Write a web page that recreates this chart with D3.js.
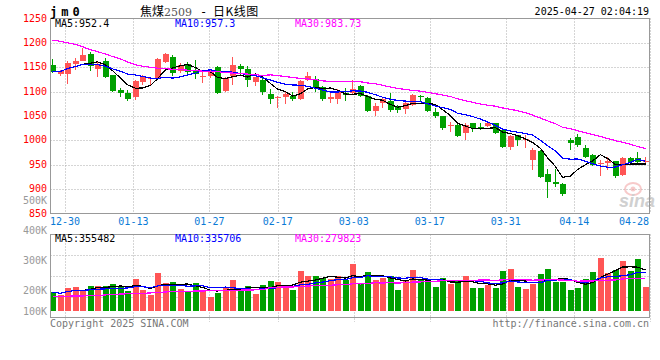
<!DOCTYPE html>
<html>
<head>
<meta charset="utf-8">
<script src="https://cdn.jsdelivr.net/npm/d3@7"></script>
<style>
    body { margin: 0; background: #fff; }
    svg { display: block; }
    text { font-family: "DejaVu Sans Mono", monospace; font-size: 10px; }
</style>
</head>
<body>
<svg id="chart" width="660" height="360"></svg>
<script>
// trading days shown (12-25 .. 04-25)
var dates = ['12-25', '12-26', '12-27', '12-30', '12-31',
    '01-02', '01-03', '01-06', '01-07', '01-08', '01-09', '01-10', '01-13', '01-14', '01-15',
    '01-16', '01-17', '01-20', '01-21', '01-22', '01-23', '01-24', '01-27',
    '02-05', '02-06', '02-07', '02-10', '02-11', '02-12', '02-13', '02-14', '02-17', '02-18',
    '02-19', '02-20', '02-21', '02-24', '02-25', '02-26', '02-27', '02-28',
    '03-03', '03-04', '03-05', '03-06', '03-07', '03-10', '03-11', '03-12', '03-13', '03-14',
    '03-17', '03-18', '03-19', '03-20', '03-21', '03-24', '03-25', '03-26', '03-27', '03-28', '03-31',
    '04-01', '04-02', '04-03', '04-07', '04-08', '04-09', '04-10', '04-11', '04-14', '04-15',
    '04-16', '04-17', '04-18', '04-21', '04-22', '04-23', '04-24', '04-25'];

var opens = [1155, 1137, 1136, 1157, 1163, 1177, 1146, 1163, 1134, 1103, 1097, 1090, 1119, 1125, 1125,
    1160, 1172, 1143, 1156, 1145, 1131, 1132, 1150, 1101, 1133, 1153, 1147, 1120, 1124, 1096,
    1088, 1090, 1091, 1085, 1123, 1125, 1110, 1085, 1085, 1098, 1098, 1112, 1091, 1060, 1076,
    1081, 1069, 1064, 1072, 1091, 1086, 1059, 1050, 1029, 1031, 1016, 1035, 1027, 1030, 1035,
    1021, 987, 1011, 1000, 960, 979, 931, 914, 910, 1001, 1006, 985, 970, 952, 953,
    958, 929, 963, 963, 955];
var highs = [1166, 1145, 1162, 1168, 1189, 1181, 1160, 1168, 1135, 1107, 1103, 1124, 1134, 1130, 1170,
    1179, 1176, 1158, 1160, 1165, 1140, 1145, 1152, 1131, 1172, 1156, 1153, 1131, 1127, 1105,
    1091, 1100, 1100, 1124, 1140, 1133, 1112, 1098, 1105, 1108, 1124, 1114, 1093, 1076, 1090,
    1097, 1073, 1079, 1095, 1093, 1088, 1066, 1050, 1037, 1035, 1035, 1036, 1035, 1037, 1036,
    1022, 1011, 1012, 1011, 985, 980, 941, 941, 912, 1004, 1014, 990, 973, 960, 965,
    958, 966, 966, 977, 966];
var lows = [1139, 1133, 1116, 1144, 1162, 1143, 1131, 1127, 1100, 1088, 1081, 1082, 1114, 1114, 1124,
    1158, 1133, 1138, 1132, 1125, 1118, 1127, 1095, 1099, 1114, 1135, 1110, 1112, 1093, 1074,
    1066, 1075, 1081, 1083, 1121, 1100, 1081, 1076, 1075, 1081, 1094, 1090, 1059, 1050, 1067,
    1059, 1057, 1054, 1070, 1080, 1058, 1045, 1022, 1018, 1006, 1001, 1018, 1021, 1028, 1014,
    985, 981, 989, 984, 939, 923, 882, 905, 886, 981, 987, 963, 947, 927, 939,
    922, 927, 953, 953, 949];
var closes = [1141, 1142, 1159, 1163, 1175, 1152, 1157, 1129, 1102, 1098, 1084, 1122, 1131, 1128, 1167,
    1177, 1139, 1155, 1140, 1136, 1133, 1140, 1097, 1128, 1155, 1147, 1123, 1129, 1099, 1085,
    1090, 1096, 1085, 1122, 1133, 1107, 1085, 1090, 1100, 1093, 1105, 1092, 1060, 1070, 1085,
    1062, 1063, 1076, 1093, 1088, 1061, 1049, 1025, 1031, 1010, 1031, 1025, 1023, 1035, 1016,
    987, 1009, 1001, 1002, 980, 925, 915, 910, 890, 995, 990, 965, 949, 954, 957,
    927, 964, 955, 955, 957];
var volumes = [164000, 140500, 198100, 206900, 177600, 212800, 212800, 212800, 229400, 212800,
    171800, 272300, 177600, 134700, 327000, 241100, 249900, 186400, 164000, 241100,
    177600, 121000, 158100, 198100, 264500, 177600, 212800, 143500, 220600, 258600,
    249900, 212800, 177600, 344500, 301600, 298700, 284000, 272300, 298700, 264500,
    402100, 241100, 332800, 264500, 286900, 298700, 177600, 264500, 350400, 264500,
    272300, 204000, 281100, 229400, 255700, 298700, 198100, 198100, 220600, 198100,
    341600, 359200, 204000, 186400, 235200, 321100, 359200, 249900, 249900, 177600,
    198100, 272300, 332800, 456800, 327000, 350400, 427500, 341600, 445100, 204000];

// MA30 values before a full 30-day window exists
var priceMa30Head = [1206, 1203, 1200, 1197, 1192, 1186, 1182, 1177, 1172, 1167, 1161, 1155, 1152, 1150,
    1148, 1147, 1146, 1145, 1144, 1143, 1142, 1141, 1141, 1139, 1138, 1137, 1136, 1135, 1133];
var volMa30Head = [127000, 127000, 128000, 129000, 130000, 131000, 135000, 138000, 144000, 146000,
    148000, 150000, 152000, 156000, 160000, 164000, 166000, 168000, 170000, 172000, 173000, 174000,
    175000, 177000, 178000, 180000, 181000, 182000, 183000];

var tickDates = ['12-30', '01-13', '01-27', '02-17', '03-03', '03-17', '03-31', '04-14', '04-28'];
var priceTicks = [1250, 1200, 1150, 1100, 1050, 1000, 950, 900, 850];
var volTicks = [500000, 400000, 300000, 200000, 100000];
var priceLegend = ['MA5:952.4', 'MA10:957.3', 'MA30:983.73'];
var volLegend = ['MA5:355482', 'MA10:335706', 'MA30:279823'];

var RED = '#ff5555', GREEN = '#00a000', GRID = '#aaa', BORDER = '#999';
var MA_COLORS = ['#000', '#0000ff', '#ff00ff'];

var svg = d3.select('#chart');

var x = d3.scaleBand().domain(dates).range([48.75, 648.75]);
var cx = function (i) { return x(dates[i]) + x.bandwidth() / 2; };
var gridX = d3.scaleLinear().domain([0, dates.length]).range([42.2, 650.2]);
var y = d3.scaleLinear().domain([850, 1250]).range([213.5, 18.5]);
var yVol = d3.scaleLinear().domain([0, 500000]).range([311, 253]);
var yVolLabel = d3.scaleLinear().domain([0, 500000]).range([350.7, 200.7]);

function movingAvg(vals, n, head) {
    return vals.map(function (v, i) {
        if (head && i < head.length) { return head[i]; }
        return d3.mean(vals.slice(Math.max(0, i - n + 1), i + 1));
    });
}

var crisp = function (v) { return Math.round(v) + 0.5; };
var up = function (i) { return closes[i] >= opens[i]; };
var tickIndex = function (d) { return dates.indexOf(d) < 0 ? dates.length : dates.indexOf(d); };

// grids
function vGrid(top, bottom) {
    svg.append('g').selectAll('line')
        .data(tickDates)
        .enter().append('line')
        .attr('x1', function (d) { return crisp(gridX(tickIndex(d))); })
        .attr('x2', function (d) { return crisp(gridX(tickIndex(d))); })
        .attr('y1', top).attr('y2', bottom)
        .style('stroke', GRID)
        .style('stroke-dasharray', '1,2');
}
vGrid(18.5, 213.5);
vGrid(234.5, 322);

svg.append('g').selectAll('line')
    .data(priceTicks.slice(1, -1))
    .enter().append('line')
    .attr('x1', 50.5).attr('x2', 649.5)
    .attr('y1', function (d) { return crisp(y(d)); })
    .attr('y2', function (d) { return crisp(y(d)); })
    .style('stroke', GRID)
    .style('stroke-dasharray', '1,2');

svg.append('g').selectAll('line')
    .data([1, 2, 3])
    .enter().append('line')
    .attr('x1', 50.5).attr('x2', 649.5)
    .attr('y1', function (d) { return crisp(234.5 + d * 83 / 4); })
    .attr('y2', function (d) { return crisp(234.5 + d * 83 / 4); })
    .style('stroke', GRID)
    .style('stroke-dasharray', '1,2');

// sina watermark
var logo = svg.append('g').attr('opacity', 0.55);
logo.append('ellipse').attr('cx', 633).attr('cy', 189).attr('rx', 8).attr('ry', 6)
    .style('fill', 'none').style('stroke', '#f2a0a0').style('stroke-width', 2);
logo.append('circle').attr('cx', 633).attr('cy', 189).attr('r', 2.5).style('fill', '#f2a0a0');
logo.append('text').attr('x', 619).attr('y', 207)
    .style('font-family', 'Arial, "Liberation Sans", sans-serif')
    .style('font-size', '18px').style('font-style', 'italic').style('font-weight', 'bold')
    .style('fill', '#aaa').text('sina');

// candles
var candles = svg.append('g').style('shape-rendering', 'crispEdges');
candles.selectAll('line')
    .data(dates)
    .enter().append('line')
    .attr('x1', function (d, i) { return Math.floor(cx(i)) + 0.5; })
    .attr('x2', function (d, i) { return Math.floor(cx(i)) + 0.5; })
    .attr('y1', function (d, i) { return y(highs[i]); })
    .attr('y2', function (d, i) { return y(lows[i]); })
    .style('stroke', function (d, i) { return up(i) ? RED : GREEN; });
candles.selectAll('rect')
    .data(dates)
    .enter().append('rect')
    .attr('x', function (d, i) { return Math.floor(cx(i)) - 2; })
    .attr('width', 6)
    .attr('y', function (d, i) { return y(Math.max(opens[i], closes[i])); })
    .attr('height', function (d, i) { return Math.max(1, Math.abs(y(opens[i]) - y(closes[i]))); })
    .style('fill', function (d, i) { return up(i) ? RED : GREEN; });

// volume bars
svg.append('g').style('shape-rendering', 'crispEdges')
    .selectAll('rect')
    .data(volumes)
    .enter().append('rect')
    .attr('x', function (d, i) { return Math.floor(cx(i)) - 2; })
    .attr('width', 6)
    .attr('y', function (d) { return yVol(d); })
    .attr('height', function (d) { return yVol(0) - yVol(d); })
    .style('fill', function (d, i) { return up(i) ? RED : GREEN; });

// moving averages
function drawLines(series, scale) {
    var line = d3.line()
        .x(function (d, i) { return Math.floor(cx(i)) + 0.5; })
        .y(function (d) { return scale(d); });
    series.forEach(function (s, k) {
        svg.append('path')
            .attr('d', line(s))
            .style('fill', 'none')
            .style('stroke', MA_COLORS[k])
            .style('stroke-width', 1.2)
            .style('shape-rendering', 'crispEdges');
    });
}
drawLines([movingAvg(closes, 5), movingAvg(closes, 10), movingAvg(closes, 30, priceMa30Head)], y);
drawLines([movingAvg(volumes, 5), movingAvg(volumes, 10), movingAvg(volumes, 30, volMa30Head)], yVol);

// panel borders
[[18.5, 213.5], [234.5, 317.5]].forEach(function (p) {
    svg.append('rect')
        .attr('x', 50.5).attr('y', p[0])
        .attr('width', 599).attr('height', p[1] - p[0])
        .style('fill', 'none')
        .style('stroke', BORDER);
});

// axis labels
svg.append('g').selectAll('text')
    .data(priceTicks)
    .enter().append('text')
    .attr('x', 47).attr('y', function (d) { return y(d) + 3; })
    .attr('text-anchor', 'end')
    .style('fill', '#f00')
    .text(function (d) { return d; });

svg.append('g').selectAll('text')
    .data(volTicks)
    .enter().append('text')
    .attr('x', 47).attr('y', function (d) { return Math.min(yVolLabel(d), 311) + 3.5; })
    .attr('text-anchor', 'end')
    .style('fill', '#999')
    .text(function (d) { return d / 1000 + 'K'; });

svg.append('g').selectAll('text')
    .data(tickDates)
    .enter().append('text')
    .attr('x', function (d) { return Math.min(gridX(tickIndex(d)), 649 - 15); })
    .attr('y', 225)
    .attr('text-anchor', 'middle')
    .style('fill', '#0a7ad6')
    .text(function (d) { return d; });

// legends
function legend(items, baseline) {
    svg.append('g').selectAll('text')
        .data(items)
        .enter().append('text')
        .attr('x', function (d, i) { return 55 + i * 120; })
        .attr('y', baseline)
        .style('fill', function (d, i) { return MA_COLORS[i]; })
        .text(function (d) { return d; });
}
legend(priceLegend, 27);
legend(volLegend, 242);

// titles
svg.append('text').attr('x', 50).attr('y', 16)
    .style('font-size', '12px').style('font-weight', 'bold').style('letter-spacing', '4px')
    .text('jm0');
var cjk = '"Noto Sans CJK SC", sans-serif';
svg.append('text').attr('x', 140).attr('y', 16)
    .style('font-family', cjk).style('font-size', '12px').text('焦煤');
svg.append('text').attr('x', 164).attr('y', 16)
    .style('font-family', '"DejaVu Serif", serif').style('font-size', '11px').style('fill', '#555')
    .text('2509');
svg.append('text').attr('x', 200).attr('y', 16)
    .style('font-size', '12px').text('-');
svg.append('text').attr('x', 213).attr('y', 16)
    .style('font-family', cjk).style('font-size', '12px').style('letter-spacing', '0.5px')
    .text('日K线图');
svg.append('text').attr('x', 649).attr('y', 15).attr('text-anchor', 'end')
    .text('2025-04-27 02:04:19');

svg.append('text').attr('x', 50).attr('y', 327).style('fill', '#777')
    .text('Copyright 2025 SINA.COM');
svg.append('text').attr('x', 649).attr('y', 327).attr('text-anchor', 'end').style('fill', '#777')
    .text('http://finance.sina.com.cn');
</script>
</body>
</html>
